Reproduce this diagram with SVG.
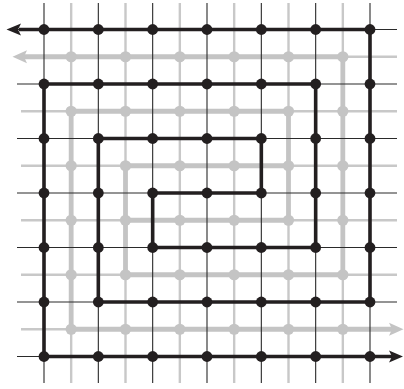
<svg xmlns="http://www.w3.org/2000/svg" width="404" height="389" viewBox="0 0 404 389">
<style>
.gg{stroke:#c8c8c8;stroke-width:2.4;fill:none}
.bg{stroke:#2a2a2a;stroke-width:1.1;fill:none}
.gp{stroke:#c4c4c4;stroke-width:4.8;fill:none;stroke-linejoin:miter}
.bp{stroke:#231f20;stroke-width:3.6;fill:none;stroke-linejoin:miter}
.gd{fill:#c4c4c4}
.bd{fill:#231f20}
.ga{fill:#c4c4c4}
.ba{fill:#231f20}
</style>
<rect width="404" height="389" fill="#ffffff"/>
<g id="gray-grid">
<path class="gg" d="M71.17 3V383M125.5 3V383M179.83 3V383M234.17 3V383M288.5 3V383M342.83 3V383"/>
<path class="gg" d="M21 56.75H397M21 111.25H397M21 165.75H397M21 220.25H397M21 274.75H397M21 329.25H397"/>
</g>
<g id="connectors-gray">
<path class="gp" d="M24 56.75H342.83V274.75H125.5V165.75H288.5"/>
<path class="gp" d="M392 329.25H71.17V111.25H288.5V220.25H125.5"/>
<polygon class="ga" points="12.5,56.75 27,50.25 24,56.75 27,63.25"/>
<polygon class="ga" points="403.5,329.25 389,322.75 392,329.25 389,335.75"/>
</g>
<g id="gray-nodes">
<g class="gd">
<circle cx="71.17" cy="56.75" r="5.6"/><circle cx="125.5" cy="56.75" r="5.6"/><circle cx="179.83" cy="56.75" r="5.6"/><circle cx="234.17" cy="56.75" r="5.6"/><circle cx="288.5" cy="56.75" r="5.6"/><circle cx="342.83" cy="56.75" r="5.6"/>
<circle cx="71.17" cy="111.25" r="5.6"/><circle cx="125.5" cy="111.25" r="5.6"/><circle cx="179.83" cy="111.25" r="5.6"/><circle cx="234.17" cy="111.25" r="5.6"/><circle cx="288.5" cy="111.25" r="5.6"/><circle cx="342.83" cy="111.25" r="5.6"/>
<circle cx="71.17" cy="165.75" r="5.6"/><circle cx="125.5" cy="165.75" r="5.6"/><circle cx="179.83" cy="165.75" r="5.6"/><circle cx="234.17" cy="165.75" r="5.6"/><circle cx="288.5" cy="165.75" r="5.6"/><circle cx="342.83" cy="165.75" r="5.6"/>
<circle cx="71.17" cy="220.25" r="5.6"/><circle cx="125.5" cy="220.25" r="5.6"/><circle cx="179.83" cy="220.25" r="5.6"/><circle cx="234.17" cy="220.25" r="5.6"/><circle cx="288.5" cy="220.25" r="5.6"/><circle cx="342.83" cy="220.25" r="5.6"/>
<circle cx="71.17" cy="274.75" r="5.6"/><circle cx="125.5" cy="274.75" r="5.6"/><circle cx="179.83" cy="274.75" r="5.6"/><circle cx="234.17" cy="274.75" r="5.6"/><circle cx="288.5" cy="274.75" r="5.6"/><circle cx="342.83" cy="274.75" r="5.6"/>
<circle cx="71.17" cy="329.25" r="5.6"/><circle cx="125.5" cy="329.25" r="5.6"/><circle cx="179.83" cy="329.25" r="5.6"/><circle cx="234.17" cy="329.25" r="5.6"/><circle cx="288.5" cy="329.25" r="5.6"/><circle cx="342.83" cy="329.25" r="5.6"/>
</g>
</g>
<g id="black-grid">
<path class="bg" d="M44 3V383M98.33 3V383M152.67 3V383M207 3V383M261.33 3V383M315.67 3V383M370 3V383"/>
<path class="bg" d="M17 29.5H397M17 84H397M17 138.5H397M17 193H397M17 247.5H397M17 302H397M17 356.5H397"/>
</g>
<g id="connectors-black">
<path class="bp" d="M19 29.5H370V302H98.33V138.5H261.33V193H152.67V247.5H315.67V84H44V356.5H392"/>
<polygon class="ba" points="6.5,29.5 21,23.5 18,29.5 21,35.5"/>
<polygon class="ba" points="403,356.5 389,350.5 392,356.5 389,362.5"/>
</g>
<g id="black-nodes">
<g class="bd">
<circle cx="44" cy="29.5" r="5.4"/><circle cx="98.33" cy="29.5" r="5.4"/><circle cx="152.67" cy="29.5" r="5.4"/><circle cx="207" cy="29.5" r="5.4"/><circle cx="261.33" cy="29.5" r="5.4"/><circle cx="315.67" cy="29.5" r="5.4"/><circle cx="370" cy="29.5" r="5.4"/>
<circle cx="44" cy="84" r="5.4"/><circle cx="98.33" cy="84" r="5.4"/><circle cx="152.67" cy="84" r="5.4"/><circle cx="207" cy="84" r="5.4"/><circle cx="261.33" cy="84" r="5.4"/><circle cx="315.67" cy="84" r="5.4"/><circle cx="370" cy="84" r="5.4"/>
<circle cx="44" cy="138.5" r="5.4"/><circle cx="98.33" cy="138.5" r="5.4"/><circle cx="152.67" cy="138.5" r="5.4"/><circle cx="207" cy="138.5" r="5.4"/><circle cx="261.33" cy="138.5" r="5.4"/><circle cx="315.67" cy="138.5" r="5.4"/><circle cx="370" cy="138.5" r="5.4"/>
<circle cx="44" cy="193" r="5.4"/><circle cx="98.33" cy="193" r="5.4"/><circle cx="152.67" cy="193" r="5.4"/><circle cx="207" cy="193" r="5.4"/><circle cx="261.33" cy="193" r="5.4"/><circle cx="315.67" cy="193" r="5.4"/><circle cx="370" cy="193" r="5.4"/>
<circle cx="44" cy="247.5" r="5.4"/><circle cx="98.33" cy="247.5" r="5.4"/><circle cx="152.67" cy="247.5" r="5.4"/><circle cx="207" cy="247.5" r="5.4"/><circle cx="261.33" cy="247.5" r="5.4"/><circle cx="315.67" cy="247.5" r="5.4"/><circle cx="370" cy="247.5" r="5.4"/>
<circle cx="44" cy="302" r="5.4"/><circle cx="98.33" cy="302" r="5.4"/><circle cx="152.67" cy="302" r="5.4"/><circle cx="207" cy="302" r="5.4"/><circle cx="261.33" cy="302" r="5.4"/><circle cx="315.67" cy="302" r="5.4"/><circle cx="370" cy="302" r="5.4"/>
<circle cx="44" cy="356.5" r="5.4"/><circle cx="98.33" cy="356.5" r="5.4"/><circle cx="152.67" cy="356.5" r="5.4"/><circle cx="207" cy="356.5" r="5.4"/><circle cx="261.33" cy="356.5" r="5.4"/><circle cx="315.67" cy="356.5" r="5.4"/><circle cx="370" cy="356.5" r="5.4"/>
</g>
</g>
</svg>
